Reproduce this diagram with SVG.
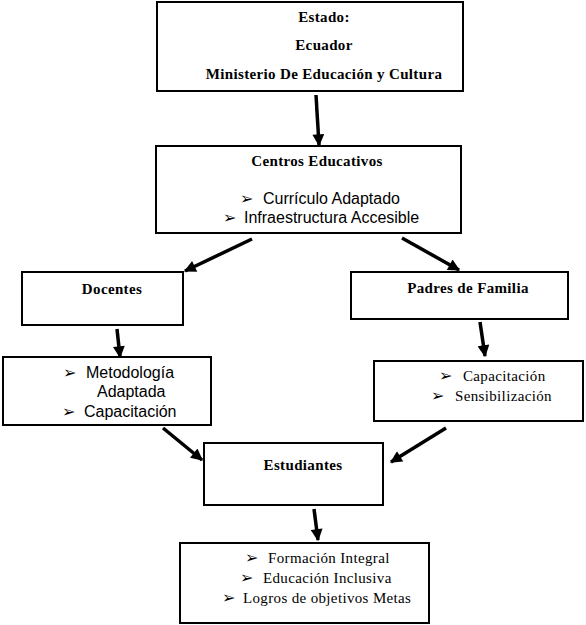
<svg xmlns="http://www.w3.org/2000/svg" width="586" height="625" viewBox="0 0 586 625">
<style>
.box{fill:#fff;stroke:#000;stroke-width:2}
.t{font-family:"Liberation Serif","Times New Roman",serif;font-size:15px;letter-spacing:0.35px;fill:#000}
.b{font-weight:bold;text-anchor:middle}
.s{font-family:"Liberation Sans",Arial,sans-serif;font-size:16px;fill:#000}
.bu{font-family:"DejaVu Sans",sans-serif;font-size:16px;fill:#000}
.c{stroke:#000;stroke-width:3.5;fill:none;marker-end:url(#ah)}
</style>
<defs>
<marker id="ah" viewBox="0 0 10 10" refX="9" refY="5" markerWidth="4" markerHeight="3.4" orient="auto" markerUnits="strokeWidth">
<path d="M0,0 L10,5 L0,10 z" fill="#000"/>
</marker>
</defs>
<rect width="586" height="625" fill="#fff"/>
<g id="connectors">
<line class="c" x1="316" y1="95" x2="319" y2="145"/>
<line class="c" x1="252" y1="239" x2="185" y2="271"/>
<line class="c" x1="402" y1="238" x2="459" y2="270"/>
<line class="c" x1="117" y1="329" x2="120" y2="357"/>
<line class="c" x1="480" y1="322" x2="485" y2="356"/>
<line class="c" x1="163" y1="428" x2="202" y2="460"/>
<line class="c" x1="446" y1="428" x2="391" y2="462"/>
<line class="c" x1="314" y1="509" x2="318" y2="540"/>
</g>
<g id="estado">
<rect class="box" x="157" y="2" width="306" height="89"/>
<text class="t b" x="324" y="22">Estado:</text>
<text class="t b" x="324" y="50">Ecuador</text>
<text class="t b" x="324" y="79">Ministerio De Educación y Cultura</text>
</g>
<g id="centros">
<rect class="box" x="156" y="146" width="305" height="87"/>
<text class="t b" x="317" y="166">Centros Educativos</text>
<text class="bu" x="240" y="204">➢</text>
<text class="s" x="263" y="204">Currículo Adaptado</text>
<text class="bu" x="223" y="223">➢</text>
<text class="s" x="244" y="223">Infraestructura Accesible</text>
</g>
<g id="docentes">
<rect class="box" x="22" y="272" width="161" height="53"/>
<text class="t b" x="112" y="294">Docentes</text>
</g>
<g id="metodologia">
<rect class="box" x="3" y="357" width="208" height="68"/>
<text class="bu" x="63" y="378">➢</text>
<text class="s" x="86" y="378">Metodología</text>
<text class="s" x="97" y="397">Adaptada</text>
<text class="bu" x="62" y="417">➢</text>
<text class="s" x="84" y="417">Capacitación</text>
</g>
<g id="padres">
<rect class="box" x="351" y="272" width="217" height="47"/>
<text class="t b" x="468" y="293">Padres de Familia</text>
</g>
<g id="capacitacion">
<rect class="box" x="374" y="361" width="209" height="60"/>
<text class="bu" x="439" y="381">➢</text>
<text class="t" x="463" y="381">Capacitación</text>
<text class="bu" x="431" y="401">➢</text>
<text class="t" x="455" y="401">Sensibilización</text>
</g>
<g id="estudiantes">
<rect class="box" x="204" y="443" width="179" height="62"/>
<text class="t b" x="303" y="470">Estudiantes</text>
</g>
<g id="logros">
<rect class="box" x="180" y="543" width="249" height="80"/>
<text class="bu" x="245" y="563">➢</text>
<text class="t" x="268" y="563">Formación Integral</text>
<text class="bu" x="240" y="583">➢</text>
<text class="t" x="263" y="583">Educación Inclusiva</text>
<text class="bu" x="222" y="603">➢</text>
<text class="t" x="243" y="603">Logros de objetivos Metas</text>
</g>
</svg>
